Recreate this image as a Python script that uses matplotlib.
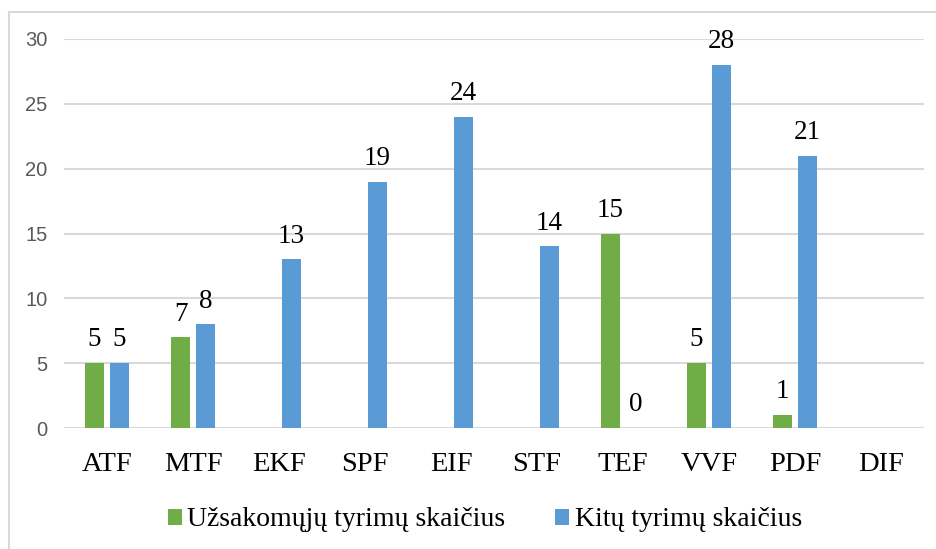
import numpy as np
import matplotlib.pyplot as plt
from matplotlib.patches import Rectangle

# data
categories = ['ATF', 'MTF', 'EKF', 'SPF', 'EIF', 'STF', 'TEF', 'VVF', 'PDF', 'DIF']
uzsakomuju = [5, 7, None, None, None, None, 15, 5, 1, None]
kitu = [5, 8, 13, 19, 24, 14, 0, 28, 21, None]

green = '#70AD47'
blue = '#5B9BD5'
serif = 'Liberation Serif'

fig = plt.figure(figsize=(9.36, 5.49), dpi=100)
ax = fig.add_axes([64 / 936, 1 - 428 / 549, 860 / 936, 389 / 549])

# outer frame
fig.patches.append(Rectangle((9 / 936, -0.1), 1.2, 1.1 - 12 / 549, transform=fig.transFigure,
                             fill=False, edgecolor='#D9D9D9', linewidth=1.5))

x = np.arange(len(categories))
w = 0.22
off = 0.145

for vals, sign, col, name in [(uzsakomuju, -1, green, 'Užsakomųjų tyrimų skaičius'),
                              (kitu, 1, blue, 'Kitų tyrimų skaičius')]:
    xs = [x[i] + sign * off for i, v in enumerate(vals) if v is not None]
    hs = [v for v in vals if v is not None]
    ax.bar(xs, hs, width=w, color=col, label=name, zorder=3)
    for xi, h in zip(xs, hs):
        ax.annotate(str(h), (xi, h), xytext=(0, 12), textcoords='offset points',
                    ha='center', va='baseline', fontsize=19.5, family=serif, color='black')

ax.set_xlim(-0.5, len(categories) - 0.5)
ax.set_ylim(0, 30)
ax.set_yticks(range(0, 31, 5))
ax.set_xticks(x)
ax.set_xticklabels(categories, fontsize=20.5, family=serif, color='black')
ax.tick_params(axis='y', labelsize=14.5, labelcolor='#595959', length=0, pad=12)
ax.tick_params(axis='x', length=0, pad=17)
for lab in ax.get_yticklabels():
    lab.set_family('Liberation Sans')
ax.yaxis.grid(True, color='#D9D9D9', linewidth=1.5, zorder=0)
ax.set_axisbelow(True)
for s in ax.spines.values():
    s.set_visible(False)

fig.legend(loc='center', bbox_to_anchor=(485 / 936, 1 - 520 / 549), ncol=2, frameon=False,
           prop={'family': serif, 'size': 20}, handlelength=0.5, handleheight=0.5,
           handletextpad=0.2, columnspacing=1.8)

fig.savefig('out.png', dpi=100)
